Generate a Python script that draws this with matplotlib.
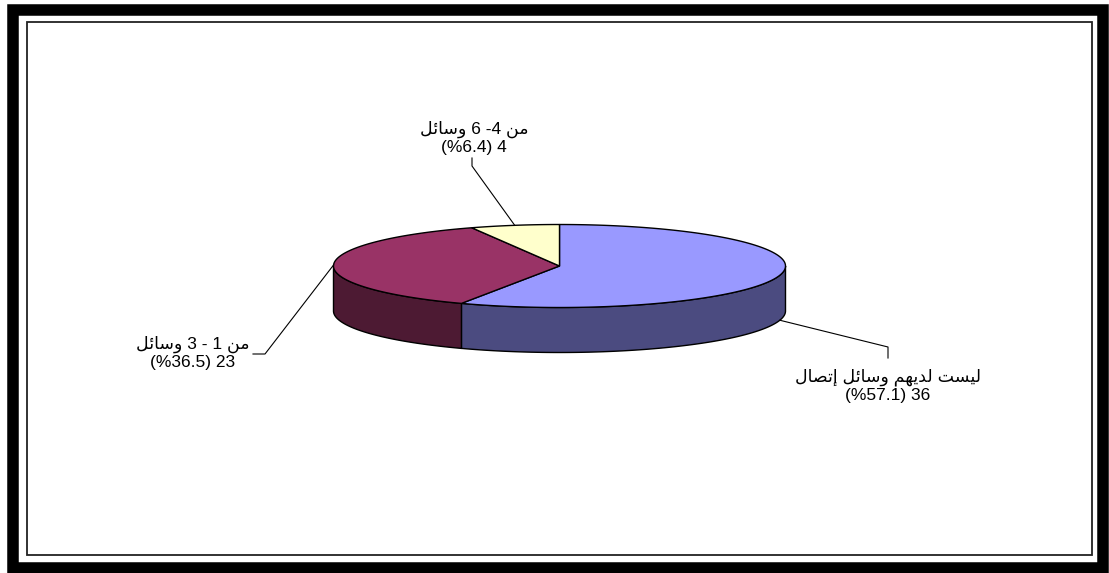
import numpy as np
import matplotlib.pyplot as plt
from matplotlib.patches import Polygon, Rectangle

plt.rcParams['font.family'] = ['Liberation Sans', 'DejaVu Sans']

# data, in the order Excel draws the slices (clockwise from 12 o'clock)
categories = ['ليست لديهم وسائل إتصال', 'من 1 - 3 وسائل', 'من 4- 6 وسائل']
counts = [36, 23, 4]
percents = [57.1, 36.5, 6.4]

top_colors = ['#9999ff', '#993366', '#ffffcc']
side_colors = ['#4b4b80', '#4d1a33', '#80805f']

# arabic letters -> presentation form (isolated code point)
DUAL = {'ئ': 0xFE89, 'ت': 0xFE95, 'س': 0xFEB1, 'ص': 0xFEB9, 'ل': 0xFEDD,
        'م': 0xFEE1, 'ن': 0xFEE5, 'ه': 0xFEE9, 'ي': 0xFEF1}
RIGHT = {'ا': 0xFE8D, 'إ': 0xFE87, 'د': 0xFEA9, 'و': 0xFEED}


def shape(word):
    # join the letters of one word and put them in visual order
    out = ''
    for i, ch in enumerate(word):
        prev_joins = i > 0 and word[i - 1] in DUAL
        next_joins = ch in DUAL and i < len(word) - 1 and (word[i + 1] in DUAL or word[i + 1] in RIGHT)
        if ch in RIGHT:
            out += chr(RIGHT[ch] + (1 if prev_joins else 0))
        else:
            out += chr(DUAL[ch] + [[0, 2], [1, 3]][prev_joins][next_joins])
    return out[::-1]


def rtl(line):
    toks = []
    for tok in line.split(' ')[::-1]:
        if any(c in DUAL or c in RIGHT for c in tok):
            toks.append(shape(tok))
        else:
            toks.append(tok if tok.isdigit() else tok[::-1])
    return ' '.join(toks)


fig = plt.figure(figsize=(11.09, 5.73), dpi=100)
ax = fig.add_axes([0, 0, 1, 1])
ax.set_xlim(0, 1109)
ax.set_ylim(573, 0)
ax.axis('off')

# frames
ax.add_patch(Rectangle((13, 9.5), 1090, 558, fill=False, lw=8.3, ec='black', joinstyle='miter'))
ax.add_patch(Rectangle((27, 22), 1065, 533, fill=False, lw=1.3, ec='#222222'))

# 3d pie layout (pixels)
cx, cy, rx, ry, depth = 559.5, 266, 226, 41.5, 45

frac = np.array(counts) / sum(counts)
edges = np.concatenate([[0], np.cumsum(frac)]) * 360


def pt(phi):
    r = np.radians(phi)
    return cx + rx * np.sin(r), cy - ry * np.cos(r)


# side walls (front half only)
for i in range(len(counts)):
    a = max(edges[i], 90)
    b = min(edges[i + 1], 270)
    if a < b:
        xs, ys = pt(np.linspace(a, b, 120))
        poly = np.vstack([np.column_stack([xs, ys]),
                          np.column_stack([xs[::-1], ys[::-1] + depth])])
        ax.add_patch(Polygon(poly, closed=True, fc=side_colors[i], ec='black', lw=1))

# top faces
for i in range(len(counts)):
    xs, ys = pt(np.linspace(edges[i], edges[i + 1], 200))
    poly = np.vstack([[cx, cy], np.column_stack([xs, ys])])
    ax.add_patch(Polygon(poly, closed=True, fc=top_colors[i], ec='black', lw=1))

# labels with leader lines
label_xy = [(888, 386), (193, 353), (474, 138)]
elbows = [[(888, 347), (888, 358)], [(265, 354), (253, 354)], [(472, 166), (472, 158)]]

for i in range(len(counts)):
    mid = (edges[i] + edges[i + 1]) / 2
    x0, y0 = pt(mid)
    if 90 < mid < 270:
        y0 += depth
    px = [x0] + [p[0] for p in elbows[i]]
    py = [y0] + [p[1] for p in elbows[i]]
    ax.plot(px, py, color='black', lw=0.8)
    txt = rtl(categories[i]) + '\n' + f'(%{percents[i]}) {counts[i]}'
    ax.text(label_xy[i][0], label_xy[i][1], txt, ha='center', va='center',
            fontsize=12.5, linespacing=1.2)

fig.savefig('out.png', dpi=100)
